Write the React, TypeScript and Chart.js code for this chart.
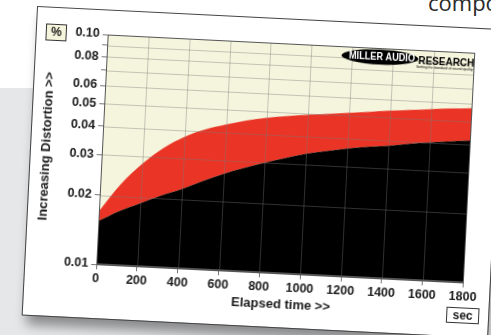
import React, { useEffect, useRef } from "react";
import { Chart, registerables } from "chart.js";
Chart.register(...registerables);

// ---- data ----
const timeSec = [0, 100, 200, 300, 400, 500, 600, 700, 800, 900, 1000, 1100, 1200, 1300, 1400, 1500, 1600, 1700, 1800];
const upperDistortion = [0.017, 0.0225, 0.0279, 0.033, 0.0373, 0.0406, 0.0431, 0.0454, 0.0471, 0.0484, 0.0495, 0.0505, 0.0515, 0.0526, 0.0537, 0.0547, 0.0557, 0.0566, 0.0574];
const lowerDistortion = [0.0154, 0.0172, 0.0188, 0.0205, 0.0221, 0.0242, 0.0263, 0.0282, 0.03, 0.0318, 0.0335, 0.0348, 0.036, 0.037, 0.0378, 0.0389, 0.0399, 0.0407, 0.0414];
const yTickValues = [0.01, 0.02, 0.03, 0.04, 0.05, 0.06, 0.07, 0.08, 0.09, 0.1];
const yTickLabels = ["0.01", "0.02", "0.03", "0.04", "0.05", "0.06", "", "0.08", "", "0.10"];
const xTickValues = [0, 200, 400, 600, 800, 1000, 1200, 1400, 1600, 1800];
const xTickLabels = ["0", "200", "400", "600", "800", "1000", "1200", "1400", "1600", "1800"];
const xTitle = "Elapsed time >>";
const yTitle = "Increasing Distortion >>";
const yUnit = "%";
const xUnit = "sec";
const logoInside = "MILLER AUDIO";
const logoOutside = "RESEARCH";
const logoTagline = "Setting the standard of sound quality";

const CARD_W = 465;
const CARD_H = 308;
const FONT = '"Liberation Sans", Arial, sans-serif';
const CREAM = "#f5f5dd";

const overlay = {
  id: "overlay",
  beforeDatasetsDraw(chart: any) {
    const { ctx, chartArea: a } = chart;
    ctx.save();
    ctx.fillStyle = CREAM;
    ctx.fillRect(a.left, a.top, a.width, a.height);
    ctx.restore();
  },
  afterDatasetsDraw(chart: any) {
    const { ctx, chartArea: a, scales } = chart;
    ctx.save();
    ctx.beginPath();
    ctx.rect(a.left, a.top, a.width, a.height);
    ctx.clip();
    ctx.strokeStyle = "rgba(120,120,120,0.4)";
    ctx.lineWidth = 1;
    for (const t of xTickValues) {
      const x = Math.round(scales.x.getPixelForValue(t)) + 0.5;
      ctx.beginPath();
      ctx.moveTo(x, a.top);
      ctx.lineTo(x, a.bottom);
      ctx.stroke();
    }
    for (const v of yTickValues) {
      const y = Math.round(scales.y.getPixelForValue(v)) + 0.5;
      ctx.beginPath();
      ctx.moveTo(a.left, y);
      ctx.lineTo(a.right, y);
      ctx.stroke();
    }
    ctx.restore();

    // frame
    ctx.save();
    ctx.strokeStyle = "#555";
    ctx.lineWidth = 1;
    ctx.strokeRect(Math.round(a.left) + 0.5, Math.round(a.top) + 0.5, Math.round(a.width) - 1, Math.round(a.height) - 1);
    ctx.restore();

    // logo
    ctx.save();
    const cx = a.left + 273;
    const cy = a.top + 9;
    ctx.fillStyle = "#000";
    ctx.beginPath();
    ctx.ellipse(cx, cy, 38.5, 7.5, 0, 0, Math.PI * 2);
    ctx.fill();
    ctx.fillStyle = "#fff";
    ctx.font = `bold 10px ${FONT}`;
    ctx.textAlign = "center";
    ctx.textBaseline = "middle";
    ctx.fillText(logoInside, cx + 2, cy + 0.5, 66);
    ctx.fillStyle = "#000";
    ctx.textAlign = "left";
    ctx.font = `bold 10px ${FONT}`;
    ctx.fillText(logoOutside, cx + 38.5, cy + 2, 56);
    ctx.textAlign = "right";
    ctx.font = `3.5px ${FONT}`;
    ctx.fillText(logoTagline, a.right - 1, cy + 8.5);
    ctx.restore();
  },
  afterDraw(chart: any) {
    const { ctx } = chart;
    ctx.save();
    ctx.fillStyle = "#1a1a1a";
    ctx.textAlign = "center";
    ctx.textBaseline = "middle";
    ctx.font = `bold 13px ${FONT}`;
    ctx.fillText(xTitle, 257, 285.5);
    ctx.save();
    ctx.translate(15, 138.5);
    ctx.rotate(-Math.PI / 2);
    ctx.fillText(yTitle, 0, 0);
    ctx.restore();

    // unit boxes
    ctx.fillStyle = CREAM;
    ctx.fillRect(9.5, 16.5, 20, 16);
    ctx.strokeStyle = "#333";
    ctx.lineWidth = 1;
    ctx.strokeRect(9.5, 16.5, 20, 16);
    ctx.fillStyle = "#1a1a1a";
    ctx.font = `bold 12px ${FONT}`;
    ctx.fillText(yUnit, 19.5, 25);

    ctx.fillStyle = "#fff";
    ctx.fillRect(423.5, 279.5, 32, 15);
    ctx.strokeRect(423.5, 279.5, 32, 15);
    ctx.fillStyle = "#1a1a1a";
    ctx.fillText(xUnit, 439.5, 287.5);
    ctx.restore();
  },
};

function DistortionChart() {
  const ref = useRef<HTMLCanvasElement | null>(null);
  useEffect(() => {
    if (!ref.current) return;
    const lowerPts = timeSec.map((t, i) => ({ x: t, y: lowerDistortion[i] }));
    const upperPts = timeSec.map((t, i) => ({ x: t, y: upperDistortion[i] }));
    const tickFont = { family: FONT, weight: "bold" as const, size: 12.5 };
    const chart = new Chart(ref.current, {
      type: "line",
      data: {
        datasets: [
          {
            data: lowerPts,
            borderWidth: 0,
            borderColor: "#000",
            backgroundColor: "#000",
            fill: "start",
            pointRadius: 0,
            cubicInterpolationMode: "monotone",
          },
          {
            data: upperPts,
            borderWidth: 0,
            borderColor: "#ea3526",
            backgroundColor: "#ea3526",
            fill: "-1",
            pointRadius: 0,
            cubicInterpolationMode: "monotone",
          },
        ],
      },
      options: {
        responsive: false,
        animation: false,
        devicePixelRatio: 1,
        layout: { padding: { top: 24, right: 26.5, left: 0, bottom: 0 } },
        plugins: { legend: { display: false }, tooltip: { enabled: false }, title: { display: false } },
        scales: {
          x: {
            type: "linear",
            min: 0,
            max: 1800,
            afterBuildTicks: (s: any) => {
              s.ticks = xTickValues.map((v) => ({ value: v }));
            },
            afterFit: (s: any) => {
              s.height = 54;
            },
            ticks: {
              autoSkip: false,
              maxRotation: 0,
              padding: 2,
              color: "#1a1a1a",
              font: tickFont,
              callback: (_v: any, i: number) => xTickLabels[i],
            },
            grid: { drawOnChartArea: false, drawTicks: true, tickLength: 5, color: "#777" },
            border: { display: true, color: "#555" },
          },
          y: {
            type: "logarithmic",
            min: 0.01,
            max: 0.1,
            afterBuildTicks: (s: any) => {
              s.ticks = yTickValues.map((v) => ({ value: v }));
            },
            afterFit: (s: any) => {
              s.width = 71;
            },
            ticks: {
              autoSkip: false,
              padding: 3,
              color: "#1a1a1a",
              font: tickFont,
              callback: (_v: any, i: number) => yTickLabels[i],
            },
            grid: { drawOnChartArea: false, drawTicks: true, tickLength: 5, color: "#777" },
            border: { display: true, color: "#555" },
          },
        },
      },
      plugins: [overlay],
    } as any);
    return () => chart.destroy();
  }, []);
  return <canvas ref={ref} width={CARD_W} height={CARD_H} style={{ display: "block", width: CARD_W, height: CARD_H }} />;
}

export default function App() {
  return (
    <div style={{ position: "absolute", left: 0, top: 0, width: 491, height: 335, overflow: "hidden", background: "#fff" }}>
      <div style={{ position: "absolute", left: 0, top: 88, width: 410, height: 260, background: "#e6e7e9" }} />
      <div
        style={{
          position: "absolute",
          left: 428,
          top: -9.5,
          fontFamily: '"Open Sans", sans-serif',
          fontSize: 22,
          lineHeight: "22px",
          color: "#2a2a2a",
          whiteSpace: "nowrap",
        }}
      >
        compo
      </div>
      <div
        style={{
          position: "absolute",
          left: 38,
          top: 7,
          width: CARD_W,
          height: CARD_H,
          background: "#fff",
          outline: "1px solid #444",
          transformOrigin: "0 0",
          transform: "rotate(2.85deg)",
          boxShadow: "4px 10px 12px rgba(0,0,0,0.4)",
        }}
      >
        <DistortionChart />
      </div>
    </div>
  );
}
